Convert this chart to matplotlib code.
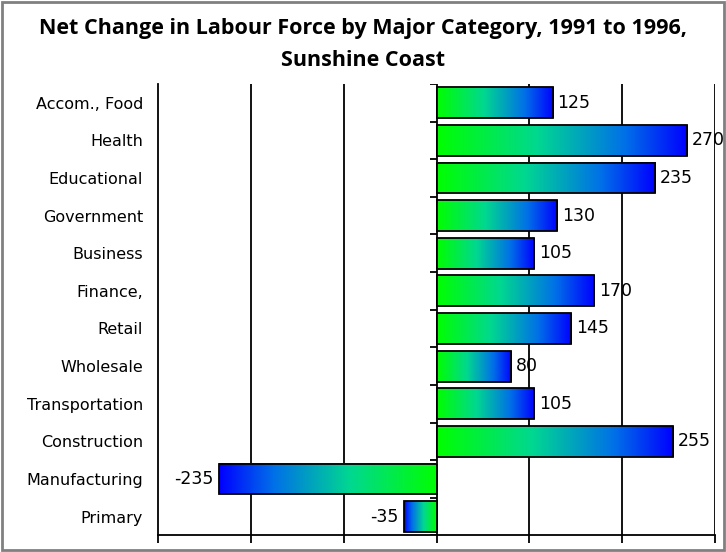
import matplotlib.pyplot as plt
import numpy as np
from matplotlib.colors import LinearSegmentedColormap
from matplotlib.patches import Rectangle

categories = ["Accom., Food", "Health", "Educational", "Government", "Business",
              "Finance,", "Retail", "Wholesale", "Transportation", "Construction",
              "Manufacturing", "Primary"]
values = [125, 270, 235, 130, 105, 170, 145, 80, 105, 255, -235, -35]
xticks = [-300, -200, -100, 0, 100, 200, 300]

cmap = LinearSegmentedColormap.from_list(
    "gb", [(0, "#00ff00"), (0.4, "#00d890"), (0.75, "#0070e8"), (1, "#0000ff")])

fig = plt.figure(figsize=(7.26, 5.52), dpi=100)
ax = fig.add_axes([0.218, 0.030, 0.767, 0.818])

n = len(categories)
ypos = np.arange(n)
h = 0.82
grad = np.linspace(0, 1, 256).reshape(1, -1)

for x in xticks[1:]:
    ax.axvline(x, color="black", lw=1.3, zorder=1)

for y, v in zip(ypos, values):
    g = grad if v >= 0 else grad[:, ::-1]
    ax.imshow(g, cmap=cmap, aspect="auto", extent=(min(0, v), max(0, v), y + h / 2, y - h / 2),
              zorder=2, interpolation="bilinear")
    ax.add_patch(Rectangle((min(0, v), y - h / 2), abs(v), h, fill=False,
                           edgecolor="black", lw=1.3, zorder=3))
    if v >= 0:
        ax.text(v + 5, y, str(v), ha="left", va="center", fontsize=12.5,
                family="DejaVu Sans", zorder=4)
    else:
        ax.text(v - 6, y, str(v), ha="right", va="center", fontsize=12.5,
                family="DejaVu Sans", zorder=4)

# small ticks on the zero line between categories
ax.hlines(np.arange(n + 1) - 0.5, -7, 0, color="black", lw=1.3, zorder=3)

ax.set_xlim(-300, 300)
ax.set_ylim(n - 0.5, -0.5)
ax.set_xticks(xticks)
ax.set_xticklabels([])
ax.tick_params(axis="x", length=6, width=1.3, direction="out")
ax.set_yticks(ypos)
ax.set_yticklabels(categories, fontsize=11.5, family="DejaVu Sans")
ax.tick_params(axis="y", length=0, pad=11)
for s in ["top", "right"]:
    ax.spines[s].set_visible(False)
for s in ["left", "bottom"]:
    ax.spines[s].set_linewidth(1.3)

fig.text(0.5, 0.948, "Net Change in Labour Force by Major Category, 1991 to 1996,",
         ha="center", va="center", fontsize=15.5, fontweight="bold", family="Open Sans")
fig.text(0.5, 0.890, "Sunshine Coast", ha="center", va="center", fontsize=15.5,
         fontweight="bold", family="Open Sans")

fig.add_artist(Rectangle((0.003, 0.004), 0.994, 0.992, transform=fig.transFigure,
                         fill=False, edgecolor="#808080", lw=2))

fig.savefig("out.png", dpi=100)
